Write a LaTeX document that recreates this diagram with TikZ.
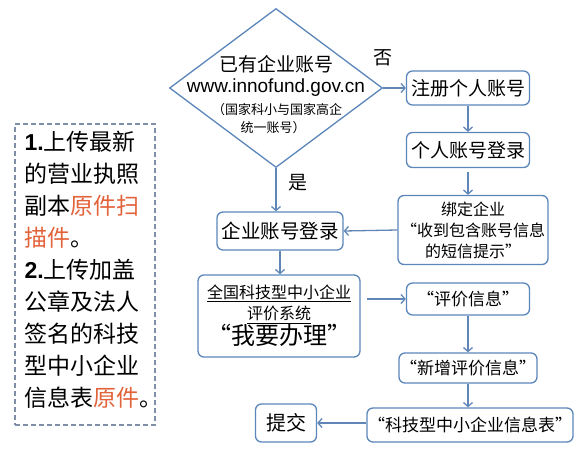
\documentclass[tikz,border=0pt]{standalone}
\usepackage{fontspec}
\setmainfont{Noto Sans CJK SC}
\newfontfamily\arial{Liberation Sans}
\usepackage{xcolor}
\usetikzlibrary{arrows.meta,shapes.geometric}
\definecolor{boxblue}{HTML}{5B86BA}
\definecolor{arrowblue}{HTML}{5F86B6}
\definecolor{dashgray}{HTML}{7F8FAA}
\definecolor{scanred}{HTML}{E2623A}
\newcommand{\fs}[2]{\fontsize{#1}{#2}\selectfont}

\begin{document}
\begin{tikzpicture}[x=1pt, y=-1pt,
    flowbox/.style={draw=boxblue, line width=1.3pt, rounded corners=6pt, fill=white, inner sep=1pt, align=center},
    arr/.style={arrowblue, line width=1.3pt, -{Straight Barb[length=4pt,width=9pt]}}]
    \useasboundingbox (0,0) rectangle (579,460);

    % Decision diamond
    \node[diamond, draw=boxblue, line width=1.3pt, minimum width=213pt, minimum height=159pt, inner sep=0pt] (acct) at (276,88) {};
    \node[font=\fs{19}{22}] (accttitle) at (276,64) {已有企业账号};
    \node[font=\arial\fs{19}{22}] (accturl) at (276,88) {www.innofund.gov.cn};
    \node[font=\fs{13}{15}] (acctnote) at (277,110) {（国家科小与国家高企};
    \node[font=\fs{13}{15}] (acctnoteb) at (273,128) {统一账号）};
    \node[font=\fs{19}{22}] (no) at (383,58) {否};
    \node[font=\fs{19}{22}] (yes) at (298,183) {是};

    % Personal account branch
    \node[flowbox, minimum width=123pt, minimum height=34pt, font=\fs{19}{22}] (reg) at (468,88) {注册个人账号};
    \node[flowbox, minimum width=123pt, minimum height=35pt, font=\fs{19}{22}] (plog) at (468,150) {个人账号登录};
    \node[flowbox, minimum width=150pt, minimum height=69pt, font=\fs{16}{21}] (bind) at (473,230) {绑定企业\\“收到包含账号信息\\的短信提示”};

    % Company account branch
    \node[flowbox, minimum width=126pt, minimum height=38pt, font=\fs{19.5}{22}] (clog) at (280,231) {企业账号登录};
    \node[flowbox, minimum width=162pt, minimum height=82pt, font=\fs{16}{21}] (sys) at (279,316)
        {\underline{全国科技型中小企业}\\\underline{评价系统}\\{\fs{24}{26}“我要办理”}};

    % Evaluation steps
    \node[flowbox, minimum width=123pt, minimum height=32pt, font=\fs{17}{20}] (eval) at (468,299) {“评价信息”};
    \node[flowbox, minimum width=123pt, minimum height=30pt, font=\fs{17}{20}] (add) at (468,368) {“新增评价信息”};
    \node[flowbox, minimum width=190pt, minimum height=34pt, font=\fs{17}{20}] (form) at (470,425) {“科技型中小企业信息表”};
    \node[flowbox, minimum width=61pt, minimum height=38pt, font=\fs{20}{22}] (submit) at (286,423) {提交};

    % Requirements
    \node[draw=dashgray, dash pattern=on 5pt off 3pt, line width=1.2pt, minimum width=140pt, minimum height=301pt] (reqbox) at (85,274.5) {};
    \node[anchor=west, align=left, font=\fs{23}{32}] (reqtext) at (21,270)
        {{\arial\bfseries 1.}上传最新\\的营业执照\\副本\textcolor{scanred}{原件扫}\\\textcolor{scanred}{描件}。\\
         {\arial\bfseries 2.}上传加盖\\公章及法人\\签名的科技\\型中小企业\\信息表\textcolor{scanred}{原件}。};

    % Connectors
    \draw[arr] (acct.east) -- (reg.west);
    \draw[arr] (reg.south) -- (plog.north);
    \draw[arr, shorten <=4pt] (plog.south) -- (plog.south |- bind.north);
    \draw[arr] (bind.west) -- (clog.east);
    \draw[arr] (acct.south) -- (acct.south |- clog.north);
    \draw[arr] (clog.south) -- (clog.south |- sys.north);
    \draw[arr, shorten <=6pt] (sys.east |- eval.west) -- (eval.west);
    \draw[arr] (eval.south) -- (add.north);
    \draw[arr] (add.south) -- (add.south |- form.north);
    \draw[arr] (form.west |- submit.east) -- (submit.east);
\end{tikzpicture}
\end{document}
